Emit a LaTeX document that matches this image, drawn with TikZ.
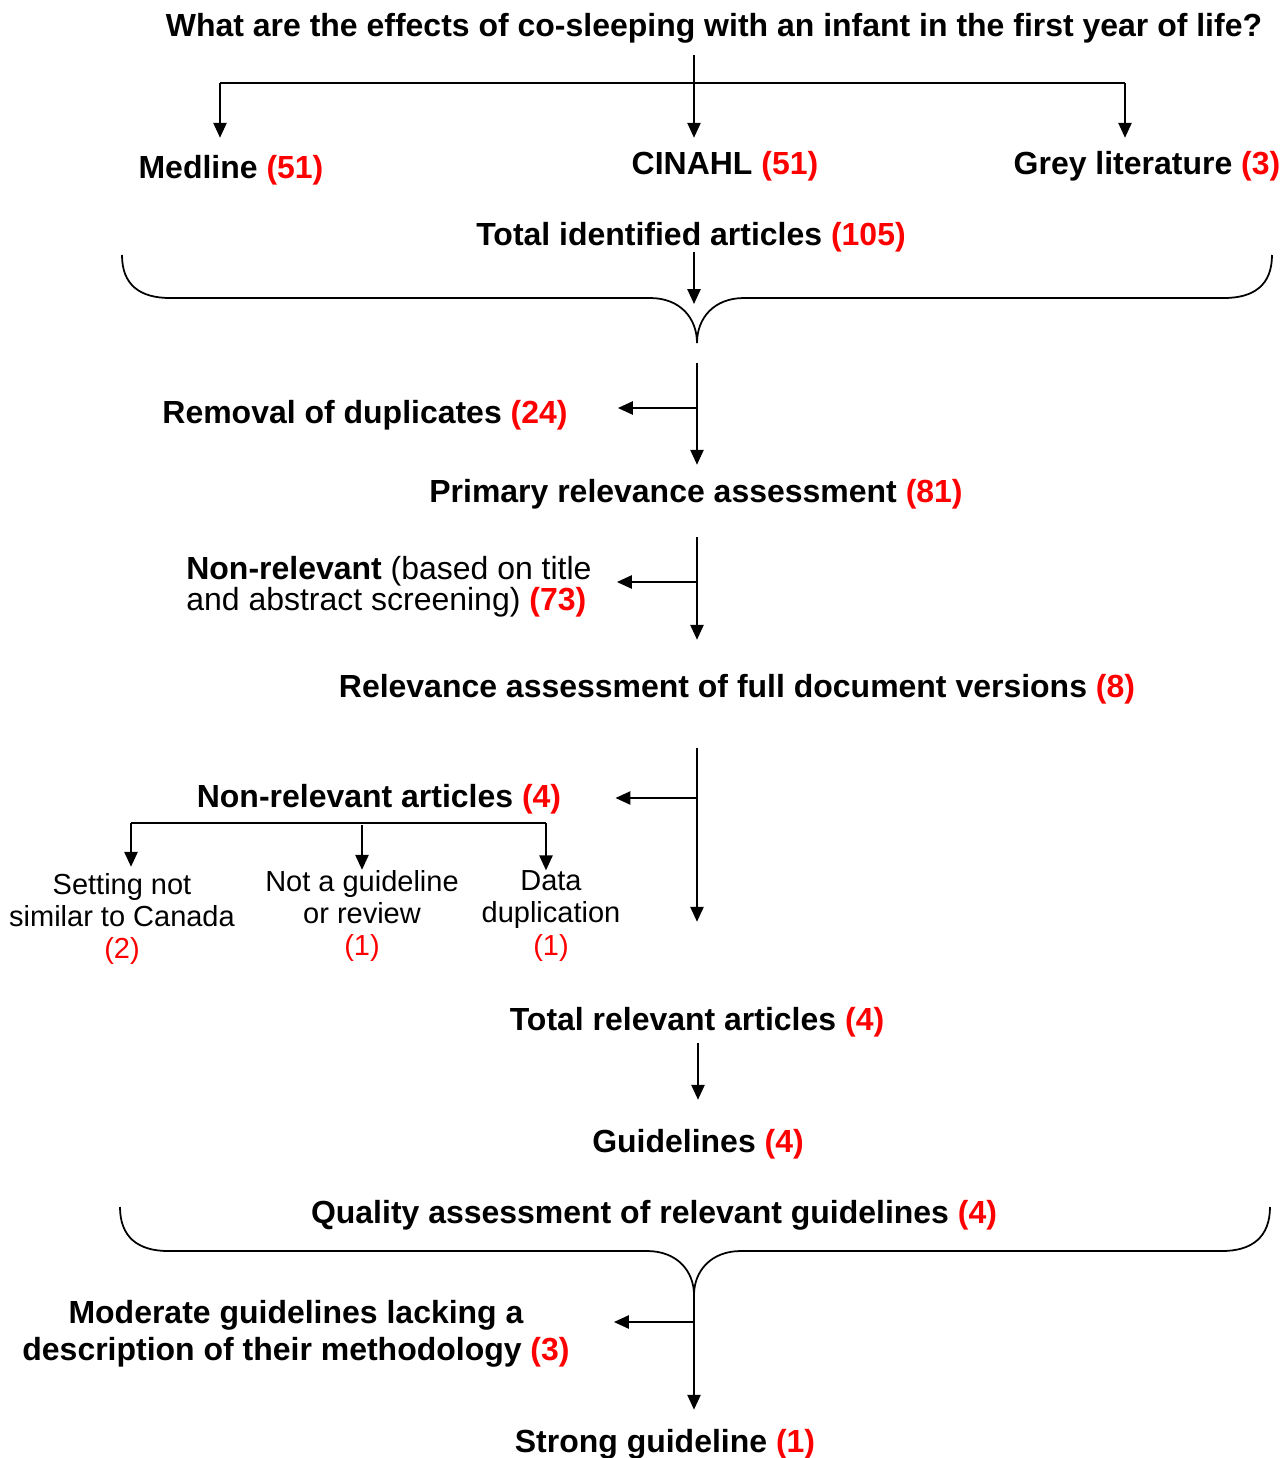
\documentclass[tikz,border=0pt]{standalone}
\usepackage{fontspec}
\setmainfont{Liberation Sans}
\usetikzlibrary{arrows.meta,positioning}
\tikzset{lbl/.style={font=\fontsize{18.2}{21}\selectfont\bfseries,inner sep=0pt},
  txt/.style={font=\fontsize{18.2}{17.6}\selectfont,align=left,inner sep=0pt},
  sub/.style={font=\fontsize{16.5}{18.4}\selectfont,align=center,inner sep=0pt},
  arr/.style={-{Triangle[length=8.5pt,width=7.5pt]},line width=1.1pt},
  bar/.style={line width=1.1pt},
  brace/.style={line width=1pt},
}
\newcommand{\cnt}[1]{\textcolor{red}{#1}}

\begin{document}
\begin{tikzpicture}[x=0.02cm,y=-0.02cm]
\useasboundingbox (0,0) rectangle (1285,1458);

%% search
\node[lbl] (q) at (714,28) {What are the effects of co-sleeping with an infant in the first year of life?};
\node[lbl] (med) at (231,170) {Medline \cnt{(51)}};
\node[lbl] (cin) at (725,166) {CINAHL \cnt{(51)}};
\node[lbl] (grey) at (1147,166) {Grey literature \cnt{(3)}};
\node[lbl] (tot) at (691,237) {Total identified articles \cnt{(105)}};

\coordinate (qj) at (694,55);
\coordinate (bL) at (220,83);
\coordinate (bM) at (694,83);
\coordinate (bR) at (1125,83);
\draw[bar] (qj) -- (bM);
\draw[bar] (bL) -- (bR);
\draw[arr,shorten >=0.34cm] (bL) -- (bL |- med.north);
\draw[arr,shorten >=0.26cm] (bM) -- (bM |- cin.north);
\draw[arr,shorten >=0.26cm] (bR) -- (bR |- grey.north);

%% first brace
\coordinate (b1) at (697,343);
\coordinate (b1top) at (694,304);
\draw[brace] (122,255) .. controls (122,285) and (140,298) .. (170,298) -- (650,298)
  .. controls (680,298) and (697,318) .. (b1) .. controls (697,318) and (714,298) .. (744,298)
  -- (1224,298) .. controls (1254,298) and (1272,285) .. (1272,255);
\draw[arr] (tot.south -| b1top) -- (b1top);

%% screening
\node[lbl] (dup) at (365,415) {Removal of duplicates \cnt{(24)}};
\node[lbl] (prim) at (696,494) {Primary relevance assessment \cnt{(81)}};
\node[txt,anchor=west] (nonrel) at (186,587) {\textbf{Non-relevant} (based on title\\and abstract screening) \textbf{\cnt{(73)}}};
\node[lbl] (full) at (737,689) {Relevance assessment of full document versions \cnt{(8)}};

\coordinate (d1) at (697,408);
\draw[arr,shorten <=0.4cm,shorten >=0.28cm] (b1) -- (b1 |- prim.north);
\draw[arr,shorten >=1.0cm] (d1) -- (d1 -| dup.east);
\coordinate (d2) at (697,582);
\draw[arr,shorten <=0.56cm,shorten >=0.68cm] (prim.south -| d2) -- (full.north -| d2);
\draw[arr,shorten >=0.5cm] (d2) -- (d2 -| nonrel.east);

%% exclusions
\node[lbl] (nra) at (379,799) {Non-relevant articles \cnt{(4)}};
\node[sub] (s1) at (122,919) {Setting not\\similar to Canada\\\cnt{(2)}};
\node[sub] (s2) at (362,916) {Not a guideline\\or review\\\cnt{(1)}};
\node[sub] (s3) at (551,916) {Data\\duplication\\\cnt{(1)}};
\node[lbl] (rel) at (697,1022) {Total relevant articles \cnt{(4)}};

\coordinate (d3) at (697,798);
\draw[arr,shorten <=0.88cm,shorten >=1.7cm] (full.south -| d3) -- (rel.north -| d3);
\draw[arr,shorten >=1.08cm] (d3) -- (d3 -| nra.east);
\coordinate (tl) at (131,823);
\coordinate (tm) at (362,823);
\coordinate (tr) at (546,823);
\draw[bar] (tl) -- (tr);
\draw[arr,shorten >=0.12cm] (tl) -- (tl |- s1.north);
\draw[arr,shorten <=0.04cm] (tm) -- (tm |- s2.north);
\draw[arr] (tr) -- (tr |- s3.north);

%% quality
\node[lbl] (gui) at (698,1144) {Guidelines \cnt{(4)}};
\node[lbl] (qa) at (654,1215) {Quality assessment of relevant guidelines \cnt{(4)}};
\node[lbl,font=\fontsize{18.2}{21.2}\selectfont\bfseries,align=center] (mod) at (296,1334) {Moderate guidelines lacking a\\description of their methodology \cnt{(3)}};
\node[lbl] (strong) at (665,1444) {Strong guideline \cnt{(1)}};

\draw[arr,shorten <=0.12cm,shorten >=0.58cm] (rel.south -| gui) -- (gui.north);

\coordinate (b2) at (694,1295);
\draw[brace] (120,1207) .. controls (120,1237) and (138,1251) .. (168,1251) -- (647,1251)
  .. controls (677,1251) and (694,1271) .. (b2) .. controls (694,1271) and (711,1251) .. (741,1251)
  -- (1222,1251) .. controls (1252,1251) and (1270,1237) .. (1270,1207);
\coordinate (d4) at (693,1322);
\draw[arr,shorten >=0.38cm] (b2) -- (b2 |- strong.north);
\draw[arr,shorten >=0.88cm] (d4) -- (d4 -| mod.east);
\end{tikzpicture}
\end{document}
